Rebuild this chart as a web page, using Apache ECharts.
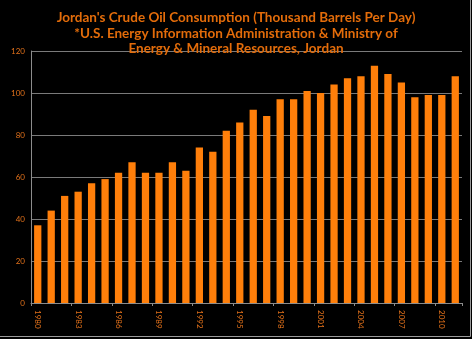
<!DOCTYPE html>
<html>
<head>
<meta charset="utf-8">
<script src="https://cdn.jsdelivr.net/npm/echarts@6/dist/echarts.min.js"></script>
<style>
html,body{margin:0;padding:0;background:#000;}
#c{width:472px;height:339px;}
</style>
</head>
<body>
<div id="c"></div>
<script>
var years = [];
for (var y = 1980; y <= 2011; y++) years.push(String(y));
var consumption = [37,44,51,53,57,59,62,67,62,62,67,63,74,72,82,86,92,89,97,97,101,100,104,107,108,113,109,105,98,99,99,108];
var yTicks = [0,20,40,60,80,100,120];
var titleLines = ["Jordan's Crude Oil Consumption (Thousand Barrels Per Day)",
                  "*U.S. Energy Information Administration & Ministry of",
                  "Energy & Mineral Resources, Jordan"];

var chart = echarts.init(document.getElementById('c'), null, {renderer:'canvas'});
chart.setOption({
  backgroundColor:'#000',
  animation:false,
  title:{
    text: titleLines.join('\n'),
    left:'center', top:5,
    textStyle:{color:'#E36C0A', fontFamily:'Lato', fontSize:13.5, fontWeight:'bold', lineHeight:15.5}
  },
  graphic:[
    {type:'line', shape:{x1:470.5,y1:0,x2:470.5,y2:336.5}, style:{stroke:'#9a9a9a', lineWidth:1}, silent:true},
    {type:'line', shape:{x1:0,y1:336.5,x2:470.5,y2:336.5}, style:{stroke:'#9a9a9a', lineWidth:1}, silent:true}
  ],
  grid:{left:31, right:10, top:51, bottom:36, containLabel:false},
  xAxis:{
    type:'category', data:years,
    axisLine:{lineStyle:{color:'#8c8c8c'}},
    axisTick:{show:true, length:3, lineStyle:{color:'#8c8c8c'}},
    axisLabel:{interval:2, rotate:-90, color:'#E0701A', fontFamily:'Lato', fontSize:8, margin:7}
  },
  yAxis:{
    type:'value', min:yTicks[0], max:yTicks[yTicks.length-1], interval:20,
    axisLine:{show:true, lineStyle:{color:'#8c8c8c'}},
    axisTick:{show:false},
    splitLine:{lineStyle:{color:'#7a7a7a'}},
    axisLabel:{color:'#E0701A', fontFamily:'Lato', fontSize:8, margin:6}
  },
  series:[{
    type:'bar', data:consumption, barCategoryGap:'46%',
    itemStyle:{color:'#FF7F0A'}
  }]
});
</script>
</body>
</html>
